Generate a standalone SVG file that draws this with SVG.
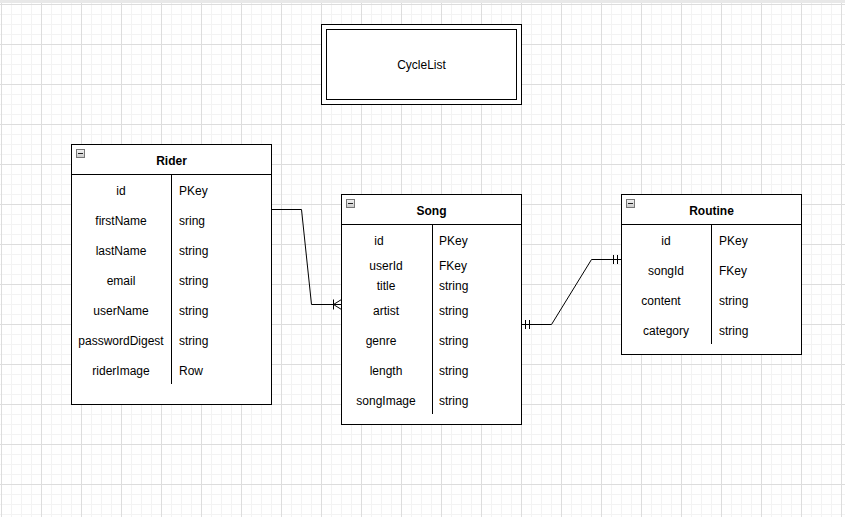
<svg xmlns="http://www.w3.org/2000/svg" width="845" height="517" viewBox="0 0 845 517">
<defs>
<pattern id="minor" x="1" y="4" width="10" height="10" patternUnits="userSpaceOnUse">
<path d="M0.5 0V10M0 0.5H10" stroke="#f3f3f3" stroke-width="1" fill="none"/>
</pattern>
<pattern id="major" x="1" y="4" width="40" height="40" patternUnits="userSpaceOnUse">
<path d="M0.5 0V40M0 0.5H40" stroke="#dddddd" stroke-width="1" fill="none"/>
</pattern>
<linearGradient id="ig" x1="0" y1="0" x2="0" y2="1">
<stop offset="0" stop-color="#f4f4f4"/>
<stop offset="1" stop-color="#c8c8c8"/>
</linearGradient>
<g id="minus">
<rect x="0.5" y="0.5" width="8" height="8" fill="url(#ig)" stroke="#777" stroke-width="1"/>
<path d="M2 4.5H7" stroke="#222" stroke-width="1"/>
</g>
</defs>
<style>
text{font-family:"Liberation Sans",Arial,Helvetica,sans-serif;font-size:12px;fill:#000}
.h{font-weight:bold}
.c{text-anchor:middle}
.box{fill:#fff;stroke:#000;stroke-width:1}
.ln{stroke:#000;stroke-width:1;fill:none}
</style>
<rect width="845" height="517" fill="#fff"/>
<rect width="845" height="517" fill="url(#minor)"/>
<rect width="845" height="517" fill="url(#major)"/>
<rect x="0" y="0" width="845" height="3" fill="#e8e8e8"/>

<g id="cyclelist">
<rect class="box" x="321.5" y="24.5" width="200" height="80"/>
<rect class="box" x="326.5" y="29.5" width="190" height="70"/>
<text class="c" x="421.5" y="69">CycleList</text>
</g>

<g id="rider">
<rect class="box" x="71.5" y="144.5" width="200" height="260"/>
<path class="ln" d="M71.5 174.5H271.5M171.5 174.5V384"/>
<use href="#minus" x="76" y="149"/>
<text class="c h" x="171.5" y="165">Rider</text>
<text class="c" x="121" y="194.5">id</text><text x="179" y="194.5">PKey</text>
<text class="c" x="121" y="224.5">firstName</text><text x="179" y="224.5">sring</text>
<text class="c" x="121" y="254.5">lastName</text><text x="179" y="254.5">string</text>
<text class="c" x="121" y="284.5">email</text><text x="179" y="284.5">string</text>
<text class="c" x="121" y="314.5">userName</text><text x="179" y="314.5">string</text>
<text class="c" x="121" y="344.5">passwordDigest</text><text x="179" y="344.5">string</text>
<text class="c" x="121" y="374.5">riderImage</text><text x="179" y="374.5">Row</text>
</g>

<g id="song">
<rect class="box" x="341.5" y="194.5" width="180" height="230"/>
<path class="ln" d="M341.5 224.5H521.5M432.5 224.5V414"/>
<use href="#minus" x="346" y="199"/>
<text class="c h" x="431.5" y="215">Song</text>
<text class="c" x="379" y="244.5">id</text><text x="439" y="244.5">PKey</text>
<text class="c" x="386" y="270">userId</text><text x="439" y="270">FKey</text>
<text class="c" x="386" y="290">title</text><text x="439" y="290">string</text>
<text class="c" x="386" y="315">artist</text><text x="439" y="315">string</text>
<text class="c" x="381" y="345">genre</text><text x="439" y="345">string</text>
<text class="c" x="386" y="375">length</text><text x="439" y="375">string</text>
<text class="c" x="386" y="405">songImage</text><text x="439" y="405">string</text>
</g>

<g id="routine">
<rect class="box" x="621.5" y="194.5" width="180" height="160"/>
<path class="ln" d="M621.5 224.5H801.5M711.5 224.5V344"/>
<use href="#minus" x="626" y="199"/>
<text class="c h" x="711.5" y="215">Routine</text>
<text class="c" x="666" y="244.5">id</text><text x="719" y="244.5">PKey</text>
<text class="c" x="666" y="274.5">songId</text><text x="719" y="274.5">FKey</text>
<text class="c" x="661" y="304.5">content</text><text x="719" y="304.5">string</text>
<text class="c" x="666" y="334.5">category</text><text x="719" y="334.5">string</text>
</g>

<g id="connectors">
<path class="ln" d="M271.5 209.5H301.5L311.5 304.5H341.5"/>
<path class="ln" d="M333.5 299.5V309.5M333.5 304.5L341.5 299.5M333.5 304.5L341.5 309.5"/>
<path class="ln" d="M521.5 324.5H551.5L591.5 259.5H621.5"/>
<path class="ln" d="M525.5 320V329M529.5 320V329M613.5 255V264M617.5 255V264"/>
</g>
</svg>
